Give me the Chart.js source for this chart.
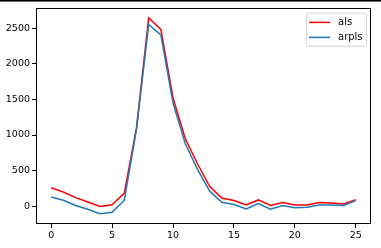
<!DOCTYPE html>
<html><head><meta charset="utf-8">
<script src="https://cdn.jsdelivr.net/npm/chart.js@4/dist/chart.umd.min.js"></script>
<style>html,body{margin:0;padding:0;background:#fff}#wrap{width:381px;height:248px}</style>
</head><body><div id="wrap"><canvas id="c" width="381" height="248"></canvas></div>
<script>
const xValues = [0,1,2,3,4,5,6,7,8,9,10,11,12,13,14,15,16,17,18,19,20,21,22,23,24,25];
const alsValues = [260,200,120,60,-5,20,185,1105,2646,2483,1520,950,600,278,116,79,18,88,10,52,18,18,52,45,30,93];
const arplsValues = [130,84,10,-42,-107,-84,84,1080,2553,2405,1450,880,520,213,56,24,-37,38,-42,10,-23,-14,18,18,10,79];
const xTicks = [0,5,10,15,20,25];
const yTicks = [0,500,1000,1500,2000,2500];
const seriesNames = ['als','arpls'];

const FONT = {family:'"DejaVu Sans"', size:9.5};

const framePlugin = {
  id:'frame',
  afterDraw(chart){
    const ctx = chart.ctx, a = chart.chartArea;
    ctx.save();
    // top edge bar seen in the reference
    ctx.fillStyle = '#000'; ctx.fillRect(0,0,chart.width,1);
    ctx.fillStyle = 'rgba(0,0,0,0.6)'; ctx.fillRect(0,1,chart.width,1);
    ctx.strokeStyle = '#000'; ctx.lineWidth = 1;
    ctx.strokeRect(Math.round(a.left)+0.5, Math.round(a.top)+0.5, Math.round(a.right-a.left)-1, Math.round(a.bottom-a.top)-1);
    // legend
    const ds = chart.data.datasets;
    const bx = a.right-65, by = a.top+5, bw = 60, bh = 33;
    ctx.beginPath();
    if (ctx.roundRect) ctx.roundRect(bx+0.5, by+0.5, bw, bh, 2); else ctx.rect(bx+0.5,by+0.5,bw,bh);
    ctx.fillStyle = 'rgba(255,255,255,0.8)'; ctx.fill();
    ctx.strokeStyle = '#d6d6d6'; ctx.lineWidth = 1; ctx.stroke();
    ctx.font = '10px "DejaVu Sans"';
    ctx.textBaseline = 'middle';
    ds.forEach((d,i)=>{
      const y = by + 9.7 + i*15;
      ctx.strokeStyle = d.borderColor; ctx.lineWidth = 1.5;
      ctx.beginPath(); ctx.moveTo(bx+3, y); ctx.lineTo(bx+24, y); ctx.stroke();
      ctx.fillStyle = '#000';
      ctx.fillText(d.label, bx+32, y);
    });
    ctx.restore();
  }
};

new Chart(document.getElementById('c'), {
  type:'line',
  data:{
    datasets:[
      {label:seriesNames[0], data:xValues.map((x,i)=>({x, y:alsValues[i]})), borderColor:'#ff0000', borderWidth:1.5, pointRadius:0, tension:0, order:1, fill:false},
      {label:seriesNames[1], data:xValues.map((x,i)=>({x, y:arplsValues[i]})), borderColor:'#1f77b4', borderWidth:1.5, pointRadius:0, tension:0, order:0, fill:false}
    ]
  },
  options:{
    responsive:false, animation:false,
    layout:{padding:{left:0, top:6, right:10, bottom:0}},
    plugins:{legend:{display:false}, tooltip:{enabled:false}},
    scales:{
      x:{type:'linear', min:-1.25, max:26.25,
        afterBuildTicks(s){ s.ticks = xTicks.map(v=>({value:v})); },
        afterFit(s){ s.height = 24; },
        grid:{display:true, drawOnChartArea:false, drawTicks:true, tickLength:4, color:'#000'},
        border:{display:false},
        ticks:{color:'#000', font:FONT, padding:2, maxRotation:0, callback:v=>String(v)}
      },
      y:{type:'linear', min:-250, max:2788,
        afterBuildTicks(s){ s.ticks = yTicks.map(v=>({value:v})); },
        afterFit(s){ s.width = 36; },
        grid:{display:true, drawOnChartArea:false, drawTicks:true, tickLength:4, color:'#000'},
        border:{display:false},
        ticks:{color:'#000', font:FONT, padding:2, callback:v=>String(v)}
      }
    }
  },
  plugins:[framePlugin]
});
</script></body></html>
